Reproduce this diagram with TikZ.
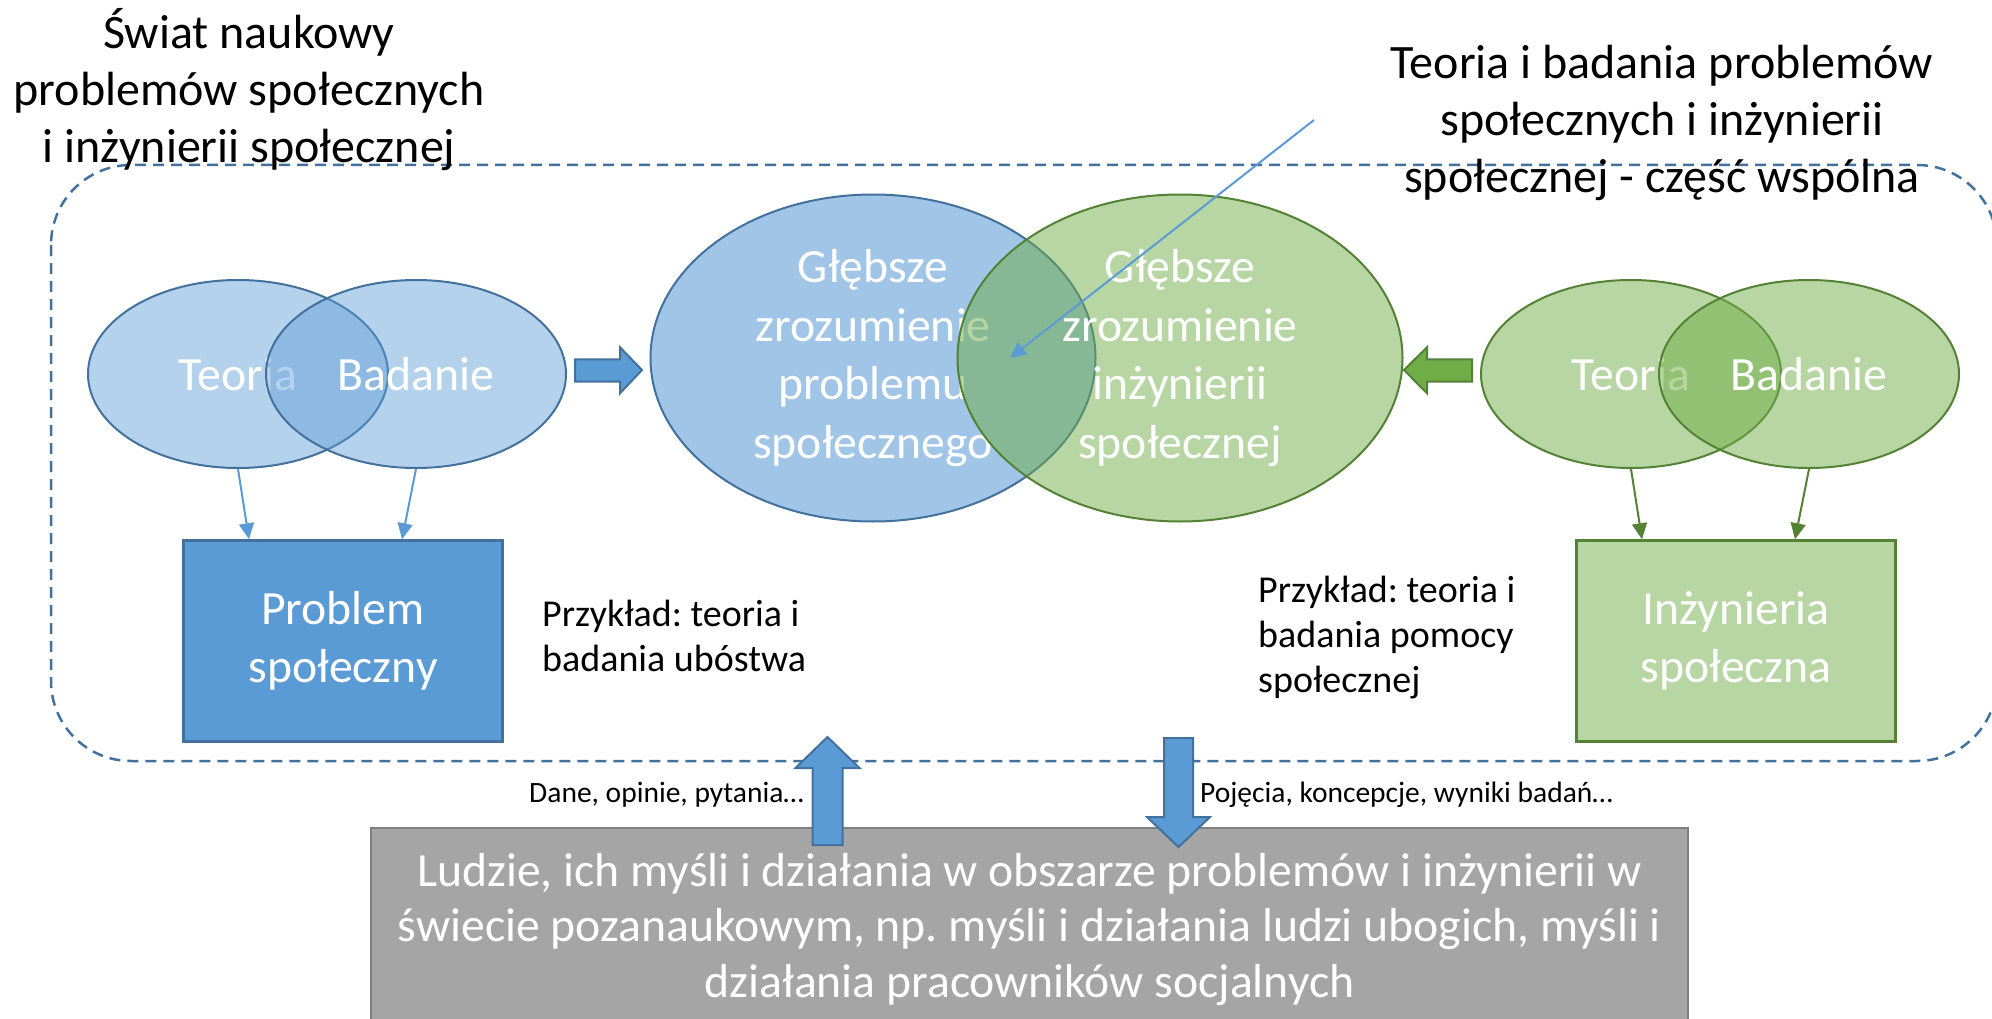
\documentclass[tikz,border=0pt]{standalone}
\usepackage{fontspec}
\setmainfont{Carlito}
\usepackage{tikz}
\usetikzlibrary{positioning,shapes.geometric,arrows.meta}
\frenchspacing

\definecolor{blueC}{HTML}{5B9BD5}
\definecolor{blueLine}{HTML}{41719C}
\definecolor{greenC}{HTML}{70AD47}
\definecolor{greenLine}{HTML}{548235}
\definecolor{greyC}{HTML}{A5A5A5}
\definecolor{greyLine}{HTML}{7F7F7F}

\begin{document}
\begin{tikzpicture}[x=1pt,y=-1pt,
    every node/.style={inner sep=0pt},
    bigtxt/.style={font=\fontsize{47.7}{58.5}\selectfont,text=white,align=center},
    smallB/.style={bigtxt,ellipse,draw=blueLine,line width=2pt,fill=blueC,fill opacity=0.45,text opacity=1,minimum width=300pt,minimum height=188pt},
    smallG/.style={smallB,draw=greenLine,fill=greenC,fill opacity=0.5},
    bigB/.style={smallB,fill opacity=0.58,minimum width=445pt,minimum height=327pt},
    bigG/.style={bigB,draw=greenLine,fill=greenC,fill opacity=0.5},
    boxB/.style={bigtxt,rectangle,draw=blueLine,line width=2.5pt,fill=blueC,minimum width=319pt,minimum height=201pt},
    boxG/.style={boxB,draw=greenLine,fill=greenC!50},
    people/.style={bigtxt,font=\fontsize{47.7}{55.5}\selectfont,rectangle,draw=greyLine,line width=2.5pt,fill=greyC,minimum width=1317pt,minimum height=203pt},
    titletxt/.style={font=\fontsize{48}{57}\selectfont,align=center},
    extxt/.style={font=\fontsize{38}{44.5}\selectfont,align=left},
    lbltxt/.style={font=\fontsize{29.5}{34}\selectfont},
    thinB/.style={draw=blueC,line width=2pt,-{Triangle[length=16pt,width=15pt]}},
    thinG/.style={thinB,draw=greenLine},
    blockB/.style={draw=blueLine,line width=2pt,fill=blueC},
    blockG/.style={draw=greenLine,line width=2pt,fill=greenC},
    world/.style={draw=blueLine,line width=2.5pt,dash pattern=on 11pt off 7pt,rounded corners=80pt}]
  \useasboundingbox (0,0) rectangle (1992,1019);

  \draw[world] (51,165) rectangle (1997,761);

  \node[titletxt] (titleL) at (249,90) {Świat naukowy\\problemów społecznych\\i inżynierii społecznej};
  \node[titletxt] (titleR) at (1662,123) {Teoria i badania problemów\\społecznych i inżynierii\\społecznej - część wspólna};

  \node[smallB] (teoB) at (238,374) {Teoria};
  \node[smallB,on grid,right=178pt of teoB] (badB) {Badanie};
  \node[boxB] (probBox) at (343,641) {Problem\\społeczny};
  \draw[thinB] (teoB.south) -- ([xshift=-94pt]probBox.north);
  \draw[thinB] (badB.south) -- ([xshift=59pt]probBox.north);

  \node[bigB] (zrozB) at (873,358) {Głębsze\\zrozumienie\\problemu\\społecznego};
  \node[bigG,on grid,right=307pt of zrozB] (zrozG) {Głębsze\\zrozumienie\\inżynierii\\społecznej};

  \node[smallG] (teoG) at (1631,374) {Teoria};
  \node[smallG,on grid,right=178pt of teoG] (badG) {Badanie};
  \node[boxG] (inzBox) at (1736,641) {Inżynieria\\społeczna};
  \draw[thinG] (teoG.south) -- ([xshift=-94pt]inzBox.north);
  \draw[thinG] (badG.south) -- ([xshift=59pt]inzBox.north);

  \draw[blockB] (575,359.3) -- (620,359.3) -- (620,347.3) -- (642,370) -- (620,393.3) -- (620,381.7) -- (575,381.7) -- cycle;
  \draw[blockG] (1472,359.3) -- (1427,359.3) -- (1427,347.3) -- (1404,370) -- (1427,393.3) -- (1427,381.7) -- (1472,381.7) -- cycle;

  \node[extxt,anchor=west] (exBieda) at (542,636) {Przykład: teoria i\\badania ubóstwa};
  \node[extxt,font=\fontsize{38}{45}\selectfont,anchor=west] (exPomoc) at (1258,638) {Przykład: teoria i\\badania pomocy\\społecznej};

  \node[people] (ludzie) at (1029.5,929.5) {Ludzie, ich myśli i działania w obszarze problemów i inżynierii w\\świecie pozanaukowym, np. myśli i działania ludzi ubogich, myśli i\\działania pracowników socjalnych};

  \draw[blockB] (812.5,845) -- (812.5,768) -- (795.5,768) -- (827.5,737) -- (859.5,768) -- (842.5,768) -- (842.5,845) -- cycle;
  \draw[blockB] (1164,738) -- (1193,738) -- (1193,817) -- (1210,817) -- (1178.5,847) -- (1147,817) -- (1164,817) -- cycle;

  \node[lbltxt,anchor=east] (daneLbl) at (804,795) {Dane, opinie, pytania…};
  \node[lbltxt,anchor=west] (pojLbl) at (1200,795) {Pojęcia, koncepcje, wyniki badań…};

  \coordinate (ptrA) at (1314,120);
  \coordinate (ptrB) at (1010,358);
  \draw[thinB] (ptrA) -- (ptrB);
\end{tikzpicture}
\end{document}
